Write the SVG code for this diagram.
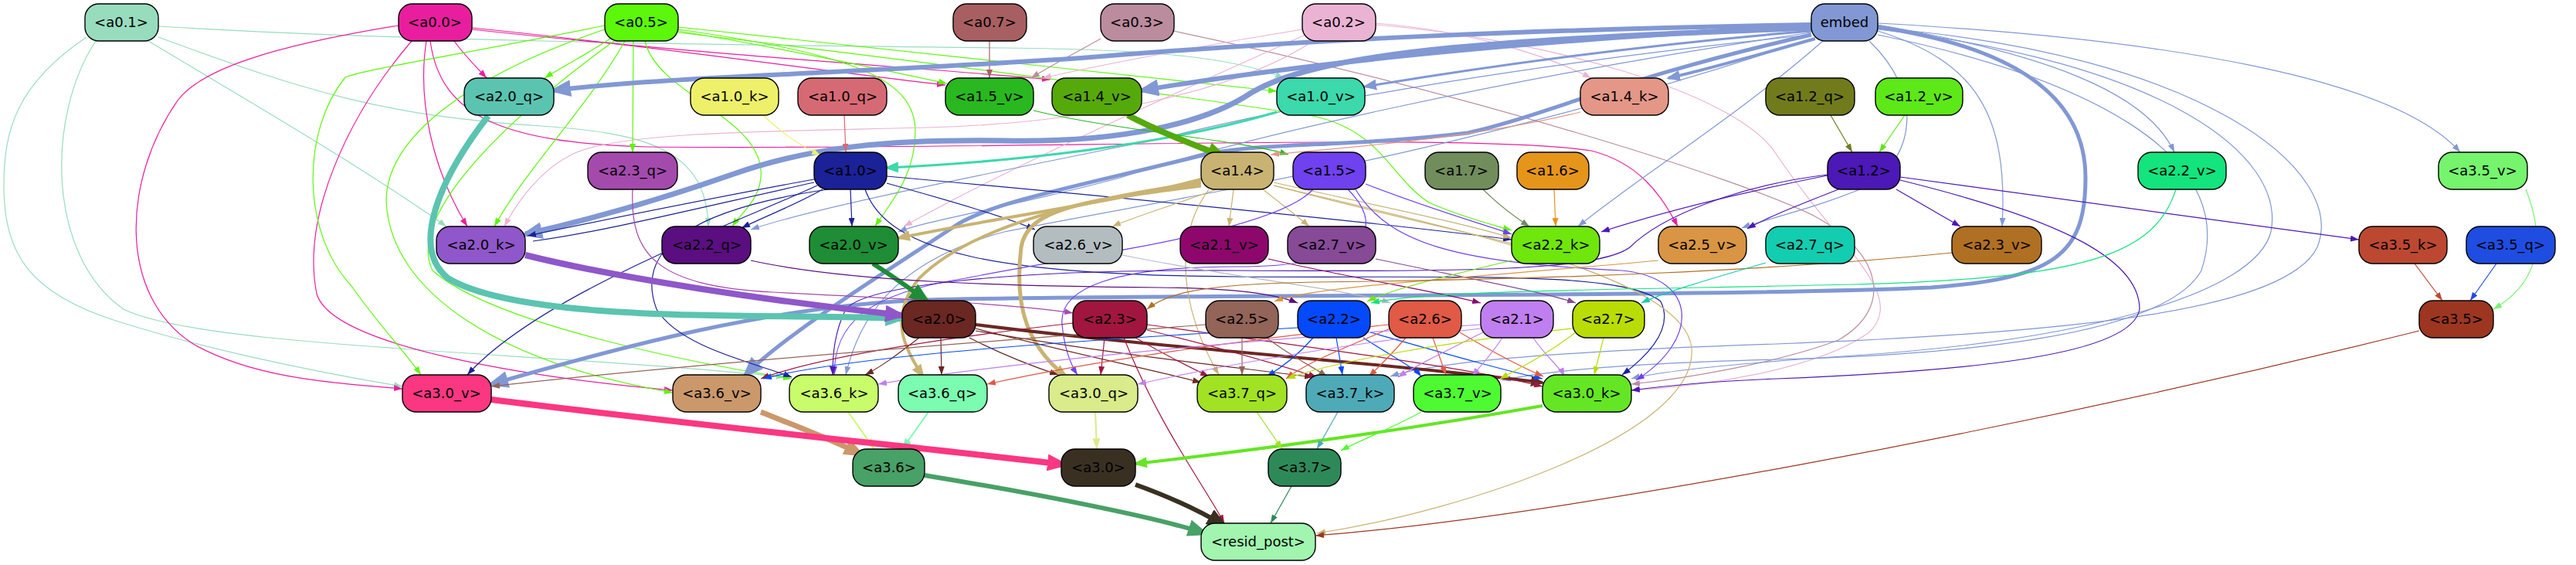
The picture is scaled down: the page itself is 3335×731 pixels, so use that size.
<svg xmlns="http://www.w3.org/2000/svg" width="3335" height="731" viewBox="0 0 3335 731">
<style>
.e{fill:none}
.n rect{stroke:#000;stroke-width:1.4}
.n text{font-family:"DejaVu Sans","Liberation Sans",sans-serif;font-size:18px;text-anchor:middle;fill:#000}
</style>
<defs>
<marker id="s98dcbe" viewBox="0 0 11 8" refX="11" refY="4" markerWidth="11" markerHeight="8" markerUnits="userSpaceOnUse" orient="auto"><path d="M0,0L11,4L0,8z" fill="#98dcbe"/></marker>
<marker id="se91e9e" viewBox="0 0 11 8" refX="11" refY="4" markerWidth="11" markerHeight="8" markerUnits="userSpaceOnUse" orient="auto"><path d="M0,0L11,4L0,8z" fill="#e91e9e"/></marker>
<marker id="s5cf70a" viewBox="0 0 11 8" refX="11" refY="4" markerWidth="11" markerHeight="8" markerUnits="userSpaceOnUse" orient="auto"><path d="M0,0L11,4L0,8z" fill="#5cf70a"/></marker>
<marker id="sa85f62" viewBox="0 0 11 8" refX="11" refY="4" markerWidth="11" markerHeight="8" markerUnits="userSpaceOnUse" orient="auto"><path d="M0,0L11,4L0,8z" fill="#a85f62"/></marker>
<marker id="sbb8c9e" viewBox="0 0 11 8" refX="11" refY="4" markerWidth="11" markerHeight="8" markerUnits="userSpaceOnUse" orient="auto"><path d="M0,0L11,4L0,8z" fill="#bb8c9e"/></marker>
<marker id="sebb3d3" viewBox="0 0 11 8" refX="11" refY="4" markerWidth="11" markerHeight="8" markerUnits="userSpaceOnUse" orient="auto"><path d="M0,0L11,4L0,8z" fill="#ebb3d3"/></marker>
<marker id="s8198d4" viewBox="0 0 11 8" refX="11" refY="4" markerWidth="11" markerHeight="8" markerUnits="userSpaceOnUse" orient="auto"><path d="M0,0L11,4L0,8z" fill="#8198d4"/></marker>
<marker id="m8198d4" viewBox="0 0 18 14" refX="15" refY="7" markerWidth="18" markerHeight="14" markerUnits="userSpaceOnUse" orient="auto"><path d="M0,0L18,7L0,14z" fill="#8198d4"/></marker>
<marker id="L8198d4" viewBox="0 0 28 22" refX="22" refY="11" markerWidth="28" markerHeight="22" markerUnits="userSpaceOnUse" orient="auto"><path d="M0,0L28,11L0,22z" fill="#8198d4"/></marker>
<marker id="seef06a" viewBox="0 0 11 8" refX="11" refY="4" markerWidth="11" markerHeight="8" markerUnits="userSpaceOnUse" orient="auto"><path d="M0,0L11,4L0,8z" fill="#eef06a"/></marker>
<marker id="sd66a74" viewBox="0 0 11 8" refX="11" refY="4" markerWidth="11" markerHeight="8" markerUnits="userSpaceOnUse" orient="auto"><path d="M0,0L11,4L0,8z" fill="#d66a74"/></marker>
<marker id="m3bd9ab" viewBox="0 0 18 14" refX="15" refY="7" markerWidth="18" markerHeight="14" markerUnits="userSpaceOnUse" orient="auto"><path d="M0,0L18,7L0,14z" fill="#3bd9ab"/></marker>
<marker id="L56a90a" viewBox="0 0 28 22" refX="22" refY="11" markerWidth="28" markerHeight="22" markerUnits="userSpaceOnUse" orient="auto"><path d="M0,0L28,11L0,22z" fill="#56a90a"/></marker>
<marker id="s29b81f" viewBox="0 0 11 8" refX="11" refY="4" markerWidth="11" markerHeight="8" markerUnits="userSpaceOnUse" orient="auto"><path d="M0,0L11,4L0,8z" fill="#29b81f"/></marker>
<marker id="se49787" viewBox="0 0 11 8" refX="11" refY="4" markerWidth="11" markerHeight="8" markerUnits="userSpaceOnUse" orient="auto"><path d="M0,0L11,4L0,8z" fill="#e49787"/></marker>
<marker id="s717b1b" viewBox="0 0 11 8" refX="11" refY="4" markerWidth="11" markerHeight="8" markerUnits="userSpaceOnUse" orient="auto"><path d="M0,0L11,4L0,8z" fill="#717b1b"/></marker>
<marker id="s5de818" viewBox="0 0 11 8" refX="11" refY="4" markerWidth="11" markerHeight="8" markerUnits="userSpaceOnUse" orient="auto"><path d="M0,0L11,4L0,8z" fill="#5de818"/></marker>
<marker id="s1b2197" viewBox="0 0 11 8" refX="11" refY="4" markerWidth="11" markerHeight="8" markerUnits="userSpaceOnUse" orient="auto"><path d="M0,0L11,4L0,8z" fill="#1b2197"/></marker>
<marker id="sc9b372" viewBox="0 0 11 8" refX="11" refY="4" markerWidth="11" markerHeight="8" markerUnits="userSpaceOnUse" orient="auto"><path d="M0,0L11,4L0,8z" fill="#c9b372"/></marker>
<marker id="mc9b372" viewBox="0 0 18 14" refX="15" refY="7" markerWidth="18" markerHeight="14" markerUnits="userSpaceOnUse" orient="auto"><path d="M0,0L18,7L0,14z" fill="#c9b372"/></marker>
<marker id="s6f41ef" viewBox="0 0 11 8" refX="11" refY="4" markerWidth="11" markerHeight="8" markerUnits="userSpaceOnUse" orient="auto"><path d="M0,0L11,4L0,8z" fill="#6f41ef"/></marker>
<marker id="s718d5c" viewBox="0 0 11 8" refX="11" refY="4" markerWidth="11" markerHeight="8" markerUnits="userSpaceOnUse" orient="auto"><path d="M0,0L11,4L0,8z" fill="#718d5c"/></marker>
<marker id="se6951b" viewBox="0 0 11 8" refX="11" refY="4" markerWidth="11" markerHeight="8" markerUnits="userSpaceOnUse" orient="auto"><path d="M0,0L11,4L0,8z" fill="#e6951b"/></marker>
<marker id="s4c18b6" viewBox="0 0 11 8" refX="11" refY="4" markerWidth="11" markerHeight="8" markerUnits="userSpaceOnUse" orient="auto"><path d="M0,0L11,4L0,8z" fill="#4c18b6"/></marker>
<marker id="L5bc4b0" viewBox="0 0 28 22" refX="22" refY="11" markerWidth="28" markerHeight="22" markerUnits="userSpaceOnUse" orient="auto"><path d="M0,0L28,11L0,22z" fill="#5bc4b0"/></marker>
<marker id="L8f57c9" viewBox="0 0 28 22" refX="22" refY="11" markerWidth="28" markerHeight="22" markerUnits="userSpaceOnUse" orient="auto"><path d="M0,0L28,11L0,22z" fill="#8f57c9"/></marker>
<marker id="L1e8d35" viewBox="0 0 28 22" refX="22" refY="11" markerWidth="28" markerHeight="22" markerUnits="userSpaceOnUse" orient="auto"><path d="M0,0L28,11L0,22z" fill="#1e8d35"/></marker>
<marker id="s5a0e80" viewBox="0 0 11 8" refX="11" refY="4" markerWidth="11" markerHeight="8" markerUnits="userSpaceOnUse" orient="auto"><path d="M0,0L11,4L0,8z" fill="#5a0e80"/></marker>
<marker id="sa44aad" viewBox="0 0 11 8" refX="11" refY="4" markerWidth="11" markerHeight="8" markerUnits="userSpaceOnUse" orient="auto"><path d="M0,0L11,4L0,8z" fill="#a44aad"/></marker>
<marker id="sb3bdc0" viewBox="0 0 11 8" refX="11" refY="4" markerWidth="11" markerHeight="8" markerUnits="userSpaceOnUse" orient="auto"><path d="M0,0L11,4L0,8z" fill="#b3bdc0"/></marker>
<marker id="s8e076d" viewBox="0 0 11 8" refX="11" refY="4" markerWidth="11" markerHeight="8" markerUnits="userSpaceOnUse" orient="auto"><path d="M0,0L11,4L0,8z" fill="#8e076d"/></marker>
<marker id="s864a97" viewBox="0 0 11 8" refX="11" refY="4" markerWidth="11" markerHeight="8" markerUnits="userSpaceOnUse" orient="auto"><path d="M0,0L11,4L0,8z" fill="#864a97"/></marker>
<marker id="s6fe60c" viewBox="0 0 11 8" refX="11" refY="4" markerWidth="11" markerHeight="8" markerUnits="userSpaceOnUse" orient="auto"><path d="M0,0L11,4L0,8z" fill="#6fe60c"/></marker>
<marker id="sd99544" viewBox="0 0 11 8" refX="11" refY="4" markerWidth="11" markerHeight="8" markerUnits="userSpaceOnUse" orient="auto"><path d="M0,0L11,4L0,8z" fill="#d99544"/></marker>
<marker id="sb07023" viewBox="0 0 11 8" refX="11" refY="4" markerWidth="11" markerHeight="8" markerUnits="userSpaceOnUse" orient="auto"><path d="M0,0L11,4L0,8z" fill="#b07023"/></marker>
<marker id="s13cdb0" viewBox="0 0 11 8" refX="11" refY="4" markerWidth="11" markerHeight="8" markerUnits="userSpaceOnUse" orient="auto"><path d="M0,0L11,4L0,8z" fill="#13cdb0"/></marker>
<marker id="s13e47d" viewBox="0 0 11 8" refX="11" refY="4" markerWidth="11" markerHeight="8" markerUnits="userSpaceOnUse" orient="auto"><path d="M0,0L11,4L0,8z" fill="#13e47d"/></marker>
<marker id="s76f46d" viewBox="0 0 11 8" refX="11" refY="4" markerWidth="11" markerHeight="8" markerUnits="userSpaceOnUse" orient="auto"><path d="M0,0L11,4L0,8z" fill="#76f46d"/></marker>
<marker id="sbc4832" viewBox="0 0 11 8" refX="11" refY="4" markerWidth="11" markerHeight="8" markerUnits="userSpaceOnUse" orient="auto"><path d="M0,0L11,4L0,8z" fill="#bc4832"/></marker>
<marker id="s1f4de1" viewBox="0 0 11 8" refX="11" refY="4" markerWidth="11" markerHeight="8" markerUnits="userSpaceOnUse" orient="auto"><path d="M0,0L11,4L0,8z" fill="#1f4de1"/></marker>
<marker id="s6b2722" viewBox="0 0 11 8" refX="11" refY="4" markerWidth="11" markerHeight="8" markerUnits="userSpaceOnUse" orient="auto"><path d="M0,0L11,4L0,8z" fill="#6b2722"/></marker>
<marker id="m6b2722" viewBox="0 0 18 14" refX="15" refY="7" markerWidth="18" markerHeight="14" markerUnits="userSpaceOnUse" orient="auto"><path d="M0,0L18,7L0,14z" fill="#6b2722"/></marker>
<marker id="sa1163f" viewBox="0 0 11 8" refX="11" refY="4" markerWidth="11" markerHeight="8" markerUnits="userSpaceOnUse" orient="auto"><path d="M0,0L11,4L0,8z" fill="#a1163f"/></marker>
<marker id="s936458" viewBox="0 0 11 8" refX="11" refY="4" markerWidth="11" markerHeight="8" markerUnits="userSpaceOnUse" orient="auto"><path d="M0,0L11,4L0,8z" fill="#936458"/></marker>
<marker id="s0449fb" viewBox="0 0 11 8" refX="11" refY="4" markerWidth="11" markerHeight="8" markerUnits="userSpaceOnUse" orient="auto"><path d="M0,0L11,4L0,8z" fill="#0449fb"/></marker>
<marker id="se05a45" viewBox="0 0 11 8" refX="11" refY="4" markerWidth="11" markerHeight="8" markerUnits="userSpaceOnUse" orient="auto"><path d="M0,0L11,4L0,8z" fill="#e05a45"/></marker>
<marker id="sc07ff0" viewBox="0 0 11 8" refX="11" refY="4" markerWidth="11" markerHeight="8" markerUnits="userSpaceOnUse" orient="auto"><path d="M0,0L11,4L0,8z" fill="#c07ff0"/></marker>
<marker id="sb9dc04" viewBox="0 0 11 8" refX="11" refY="4" markerWidth="11" markerHeight="8" markerUnits="userSpaceOnUse" orient="auto"><path d="M0,0L11,4L0,8z" fill="#b9dc04"/></marker>
<marker id="Lcb986b" viewBox="0 0 28 22" refX="22" refY="11" markerWidth="28" markerHeight="22" markerUnits="userSpaceOnUse" orient="auto"><path d="M0,0L28,11L0,22z" fill="#cb986b"/></marker>
<marker id="sc9fc6b" viewBox="0 0 11 8" refX="11" refY="4" markerWidth="14" markerHeight="10" markerUnits="userSpaceOnUse" orient="auto"><path d="M0,0L11,4L0,8z" fill="#c9fc6b"/></marker>
<marker id="s7cfcb1" viewBox="0 0 11 8" refX="11" refY="4" markerWidth="14" markerHeight="10" markerUnits="userSpaceOnUse" orient="auto"><path d="M0,0L11,4L0,8z" fill="#7cfcb1"/></marker>
<marker id="Lfb3781" viewBox="0 0 28 22" refX="22" refY="11" markerWidth="28" markerHeight="22" markerUnits="userSpaceOnUse" orient="auto"><path d="M0,0L28,11L0,22z" fill="#fb3781"/></marker>
<marker id="sd9eb8a" viewBox="0 0 11 8" refX="11" refY="4" markerWidth="14" markerHeight="10" markerUnits="userSpaceOnUse" orient="auto"><path d="M0,0L11,4L0,8z" fill="#d9eb8a"/></marker>
<marker id="m64e624" viewBox="0 0 18 14" refX="15" refY="7" markerWidth="18" markerHeight="14" markerUnits="userSpaceOnUse" orient="auto"><path d="M0,0L18,7L0,14z" fill="#64e624"/></marker>
<marker id="sa1e224" viewBox="0 0 11 8" refX="11" refY="4" markerWidth="11" markerHeight="8" markerUnits="userSpaceOnUse" orient="auto"><path d="M0,0L11,4L0,8z" fill="#a1e224"/></marker>
<marker id="s4faab8" viewBox="0 0 11 8" refX="11" refY="4" markerWidth="11" markerHeight="8" markerUnits="userSpaceOnUse" orient="auto"><path d="M0,0L11,4L0,8z" fill="#4faab8"/></marker>
<marker id="s4efb32" viewBox="0 0 11 8" refX="11" refY="4" markerWidth="11" markerHeight="8" markerUnits="userSpaceOnUse" orient="auto"><path d="M0,0L11,4L0,8z" fill="#4efb32"/></marker>
<marker id="L48a166" viewBox="0 0 28 22" refX="22" refY="11" markerWidth="28" markerHeight="22" markerUnits="userSpaceOnUse" orient="auto"><path d="M0,0L28,11L0,22z" fill="#48a166"/></marker>
<marker id="L3a3022" viewBox="0 0 28 22" refX="22" refY="11" markerWidth="28" markerHeight="22" markerUnits="userSpaceOnUse" orient="auto"><path d="M0,0L28,11L0,22z" fill="#3a3022"/></marker>
<marker id="s2e8959" viewBox="0 0 11 8" refX="11" refY="4" markerWidth="11" markerHeight="8" markerUnits="userSpaceOnUse" orient="auto"><path d="M0,0L11,4L0,8z" fill="#2e8959"/></marker>
<marker id="s9c3621" viewBox="0 0 11 8" refX="11" refY="4" markerWidth="11" markerHeight="8" markerUnits="userSpaceOnUse" orient="auto"><path d="M0,0L11,4L0,8z" fill="#9c3621"/></marker>
</defs>
<rect width="3335" height="731" fill="#fff"/>
<g id="edges" stroke-width="1.2">
<path class="e" stroke="#98dcbe" marker-end="url(#s98dcbe)" d="M192,53 C320,130 460,210 578,293"/>
<path class="e" stroke="#98dcbe" marker-end="url(#s98dcbe)" d="M112,48 C20,110 5,170 5,240 C5,330 40,380 150,415 C260,450 400,480 521,500"/>
<path class="e" stroke="#98dcbe" marker-end="url(#s98dcbe)" d="M124,53 C60,150 60,330 160,400 C260,450 700,455 1016,488"/>
<path class="e" stroke="#98dcbe" marker-end="url(#s98dcbe)" d="M205,48 C400,120 500,150 700,163 C830,172 915,190 917,293"/>
<path class="e" stroke="#98dcbe" marker-end="url(#s98dcbe)" d="M205,34 C500,52 900,58 1300,62 C1500,64 1600,75 1662,101"/>
<path class="e" stroke="#e91e9e" marker-end="url(#se91e9e)" d="M588,53 C600,70 615,85 630,101"/>
<path class="e" stroke="#e91e9e" marker-end="url(#se91e9e)" d="M552,53 C540,130 560,220 605,293"/>
<path class="e" stroke="#e91e9e" marker-end="url(#se91e9e)" d="M516,33 C350,60 260,90 230,130 C160,230 150,380 250,445 C330,490 430,495 521,503"/>
<path class="e" stroke="#e91e9e" marker-end="url(#se91e9e)" d="M533,53 C450,150 390,280 410,380 C430,450 700,490 871,505"/>
<path class="e" stroke="#e91e9e" marker-end="url(#se91e9e)" d="M611,36 C850,60 1050,90 1224,110"/>
<path class="e" stroke="#e91e9e" marker-end="url(#se91e9e)" d="M611,38 C900,70 1200,88 1360,103"/>
<path class="e" stroke="#e91e9e" marker-end="url(#se91e9e)" d="M557,53 C570,150 650,185 840,190 C1300,195 1900,170 2060,195 C2120,210 2150,250 2172,293"/>
<path class="e" stroke="#5cf70a" marker-end="url(#s5cf70a)" d="M790,50 C760,70 730,85 705,101"/>
<path class="e" stroke="#5cf70a" marker-end="url(#s5cf70a)" d="M820,53 C820,110 819,160 819,197"/>
<path class="e" stroke="#5cf70a" marker-end="url(#s5cf70a)" d="M809,53 C760,140 680,220 640,293"/>
<path class="e" stroke="#5cf70a" marker-end="url(#s5cf70a)" d="M835,53 C850,120 980,150 985,220 C988,255 960,275 948,293"/>
<path class="e" stroke="#5cf70a" marker-end="url(#s5cf70a)" d="M878,38 C1100,70 1185,100 1185,170 C1185,230 1150,265 1133,293"/>
<path class="e" stroke="#5cf70a" marker-end="url(#s5cf70a)" d="M878,40 C1000,60 1120,85 1226,108"/>
<path class="e" stroke="#5cf70a" marker-end="url(#s5cf70a)" d="M878,35 C1100,60 1400,90 1653,118"/>
<path class="e" stroke="#5cf70a" marker-end="url(#s5cf70a)" d="M878,42 C1200,80 1500,120 1700,150 C1790,170 1800,230 1850,262 C1890,280 1930,290 1957,298"/>
<path class="e" stroke="#5cf70a" marker-end="url(#s5cf70a)" d="M783,33 C600,70 470,90 447,100 C390,170 390,300 455,370 C490,420 520,450 545,485"/>
<path class="e" stroke="#5cf70a" marker-end="url(#s5cf70a)" d="M783,38 C600,100 500,180 500,260 C505,380 650,470 871,508"/>
<path class="e" stroke="#5cf70a" marker-end="url(#s5cf70a)" d="M795,53 C620,180 530,290 560,350 C640,420 900,470 1025,490"/>
<path class="e" stroke="#a85f62" marker-end="url(#sa85f62)" d="M1281,53 L1281,101"/>
<path class="e" stroke="#bb8c9e" marker-end="url(#sbb8c9e)" d="M1425,50 C1390,70 1360,85 1335,101"/>
<path class="e" stroke="#bb8c9e" marker-end="url(#sbb8c9e)" d="M1519,40 C1900,120 2250,230 2350,280 C2440,330 2450,400 2380,440 C2300,470 2180,490 2112,497"/>
<path class="e" stroke="#ebb3d3" marker-end="url(#sebb3d3)" d="M1686,38 C1550,60 1420,85 1350,101"/>
<path class="e" stroke="#ebb3d3" marker-end="url(#sebb3d3)" d="M1781,30 C1900,40 2000,70 2060,101"/>
<path class="e" stroke="#ebb3d3" marker-end="url(#sebb3d3)" d="M1700,53 C1600,120 1400,160 1200,165 C1000,170 800,170 740,200 C700,220 670,260 653,293"/>
<path class="e" stroke="#ebb3d3" marker-end="url(#sebb3d3)" d="M1690,45 C1500,130 1300,220 1170,293"/>
<path class="e" stroke="#ebb3d3" marker-end="url(#sebb3d3)" d="M1781,32 C2000,50 2250,120 2300,200 C2380,320 2470,380 2420,430 C2350,480 2200,500 2112,505"/>
<path class="e" stroke="#8198d4" stroke-width="6" marker-end="url(#L8198d4)" d="M2345,32 C2000,38 1700,50 1400,75 C1100,95 850,100 717,117"/>
<path class="e" stroke="#8198d4" stroke-width="6" marker-end="url(#L8198d4)" d="M2345,34 C2000,50 1700,80 1478,117"/>
<path class="e" stroke="#8198d4" stroke-width="7" marker-end="url(#L8198d4)" d="M2345,36 C2000,50 1720,60 1620,120 C1560,160 1450,185 1300,182 C1150,180 1050,190 950,225 C850,260 760,285 680,303"/>
<path class="e" stroke="#8198d4" stroke-width="5" marker-end="url(#L8198d4)" d="M2345,45 C2100,100 2000,150 1900,172 C1750,190 1620,185 1560,200 C1400,240 1290,260 1240,290 C1150,350 1020,430 965,485"/>
<path class="e" stroke="#8198d4" stroke-width="5" marker-end="url(#L8198d4)" d="M2431,35 C2600,60 2700,120 2700,230 C2700,330 2660,360 2500,372 C2200,385 1500,380 1200,388 C1000,395 800,450 636,497"/>
<path class="e" stroke="#8198d4" stroke-width="3" marker-end="url(#m8198d4)" d="M2345,40 C2100,60 1900,90 1767,112"/>
<path class="e" stroke="#8198d4" stroke-width="4" marker-end="url(#m8198d4)" d="M2350,50 C2280,70 2210,90 2160,101"/>
<path class="e" stroke="#8198d4" marker-end="url(#s8198d4)" d="M2360,53 C2250,150 2120,230 2043,293"/>
<path class="e" stroke="#8198d4" marker-end="url(#s8198d4)" d="M2420,53 C2490,120 2480,200 2420,240 C2350,270 2280,285 2255,295"/>
<path class="e" stroke="#8198d4" marker-end="url(#s8198d4)" d="M2431,40 C2560,80 2600,150 2592,293"/>
<path class="e" stroke="#8198d4" marker-end="url(#s8198d4)" d="M2431,32 C2650,70 2780,120 2815,197"/>
<path class="e" stroke="#8198d4" marker-end="url(#s8198d4)" d="M2431,30 C2800,50 3100,100 3185,197"/>
<path class="e" stroke="#8198d4" marker-end="url(#s8198d4)" d="M2345,45 C2000,80 1700,130 1500,180 C1250,230 1050,270 972,297"/>
<path class="e" stroke="#8198d4" marker-end="url(#s8198d4)" d="M2345,42 C1950,100 1600,180 1450,230 C1300,270 1200,285 1163,300"/>
<path class="e" stroke="#8198d4" marker-end="url(#s8198d4)" d="M2345,50 C1900,200 1500,260 1300,300 C1150,340 1110,420 1095,485"/>
<path class="e" stroke="#8198d4" marker-end="url(#s8198d4)" d="M2431,45 C2700,100 2900,200 2850,350 C2800,440 2500,460 2300,465 C2100,470 2000,480 1945,492"/>
<path class="e" stroke="#8198d4" marker-end="url(#s8198d4)" d="M2431,38 C2800,80 2960,200 2940,300 C2920,380 2700,440 2400,460 C2250,470 2150,480 2112,490"/>
<path class="e" stroke="#8198d4" marker-end="url(#s8198d4)" d="M2431,36 C2850,70 3040,220 3000,320 C2960,400 2700,430 2300,445 C2000,455 1850,470 1800,487"/>
<path class="e" stroke="#eef06a" marker-end="url(#seef06a)" d="M988,149 C1010,170 1030,185 1062,201"/>
<path class="e" stroke="#d66a74" marker-end="url(#sd66a74)" d="M1093,149 L1095,197"/>
<path class="e" stroke="#3bd9ab" stroke-width="3" marker-end="url(#m3bd9ab)" d="M1653,145 C1500,190 1300,210 1148,217"/>
<path class="e" stroke="#56a90a" stroke-width="8" marker-end="url(#L56a90a)" d="M1460,149 C1500,170 1540,185 1585,203"/>
<path class="e" stroke="#29b81f" marker-end="url(#s29b81f)" d="M1338,143 C1450,170 1600,180 1668,200"/>
<path class="e" stroke="#e49787" marker-end="url(#se49787)" d="M2046,145 C1900,180 1750,190 1645,200"/>
<path class="e" stroke="#717b1b" marker-end="url(#s717b1b)" d="M2370,149 L2398,197"/>
<path class="e" stroke="#5de818" marker-end="url(#s5de818)" d="M2466,149 L2433,197"/>
<path class="e" stroke="#1b2197" marker-end="url(#s1b2197)" d="M1101,245 L1103,293"/>
<path class="e" stroke="#1b2197" marker-end="url(#s1b2197)" d="M1065,245 C1030,265 990,280 960,295"/>
<path class="e" stroke="#1b2197" marker-end="url(#s1b2197)" d="M1054,232 C900,260 780,285 683,305"/>
<path class="e" stroke="#1b2197" d="M1054,236 C900,270 780,300 690,312"/>
<path class="e" stroke="#1b2197" marker-end="url(#s1b2197)" d="M1148,237 C1230,260 1300,280 1340,297"/>
<path class="e" stroke="#1b2197" marker-end="url(#s1b2197)" d="M1058,240 C950,290 700,380 605,485"/>
<path class="e" stroke="#1b2197" marker-end="url(#s1b2197)" d="M1072,245 C900,270 820,320 850,400 C880,450 980,470 1025,488"/>
<path class="e" stroke="#1b2197" marker-end="url(#s1b2197)" d="M1148,228 C1500,260 1800,290 1957,310"/>
<path class="e" stroke="#1b2197" marker-end="url(#s1b2197)" d="M1120,245 C1150,330 1300,355 1600,358 C1900,360 2100,350 2150,390 C2170,430 2120,470 2100,485"/>
<path class="e" stroke="#c9b372" stroke-width="4" marker-end="url(#mc9b372)" d="M1555,232 C1450,260 1300,280 1163,308"/>
<path class="e" stroke="#c9b372" marker-end="url(#sc9b372)" d="M1575,245 C1520,265 1470,280 1440,293"/>
<path class="e" stroke="#c9b372" marker-end="url(#sc9b372)" d="M1597,245 L1591,293"/>
<path class="e" stroke="#c9b372" marker-end="url(#sc9b372)" d="M1635,245 C1660,265 1680,280 1695,293"/>
<path class="e" stroke="#c9b372" marker-end="url(#sc9b372)" d="M1649,236 C1800,270 1900,290 1957,308"/>
<path class="e" stroke="#c9b372" d="M1649,240 C1800,280 1900,300 1960,316"/>
<path class="e" stroke="#c9b372" stroke-width="5" marker-end="url(#mc9b372)" d="M1555,240 C1400,260 1330,270 1322,320 C1315,380 1320,440 1380,487"/>
<path class="e" stroke="#c9b372" stroke-width="4" marker-end="url(#mc9b372)" d="M1555,236 C1380,260 1250,300 1190,360 C1150,410 1170,450 1195,487"/>
<path class="e" stroke="#c9b372" marker-end="url(#sc9b372)" d="M1565,245 C1510,320 1540,420 1578,485"/>
<path class="e" stroke="#c9b372" marker-end="url(#sc9b372)" d="M1649,240 C1900,300 2180,360 2190,450 C2200,560 1900,660 1705,690"/>
<path class="e" stroke="#6f41ef" marker-end="url(#s6f41ef)" d="M1768,238 C1850,270 1920,290 1957,303"/>
<path class="e" stroke="#6f41ef" marker-end="url(#s6f41ef)" d="M1755,245 C1800,320 1900,340 2100,350 C2200,360 2200,440 2118,492"/>
<path class="e" stroke="#6f41ef" marker-end="url(#s6f41ef)" d="M1745,245 C1800,300 1760,345 1600,345 C1450,345 1370,370 1375,420 C1378,450 1385,470 1395,485"/>
<path class="e" stroke="#6f41ef" marker-end="url(#s6f41ef)" d="M1700,245 C1650,300 1400,330 1250,360 C1120,380 1080,420 1080,485"/>
<path class="e" stroke="#718d5c" marker-end="url(#s718d5c)" d="M1920,245 C1940,265 1960,280 1980,293"/>
<path class="e" stroke="#e6951b" marker-end="url(#se6951b)" d="M2012,245 L2014,293"/>
<path class="e" stroke="#4c18b6" marker-end="url(#s4c18b6)" d="M2366,227 C2250,250 2150,275 2073,300"/>
<path class="e" stroke="#4c18b6" marker-end="url(#s4c18b6)" d="M2380,245 C2330,265 2290,280 2262,296"/>
<path class="e" stroke="#4c18b6" marker-end="url(#s4c18b6)" d="M2455,245 C2490,265 2515,280 2538,293"/>
<path class="e" stroke="#4c18b6" marker-end="url(#s4c18b6)" d="M2460,229 C2700,260 2900,290 3054,310"/>
<path class="e" stroke="#4c18b6" marker-end="url(#s4c18b6)" d="M2460,233 C2650,280 2770,330 2770,400 C2760,460 2550,480 2300,490 C2200,494 2150,500 2112,505"/>
<path class="e" stroke="#4c18b6" marker-end="url(#s4c18b6)" d="M2366,226 C2250,240 2150,280 2110,320 C2070,350 1900,352 1600,350 C1300,348 1120,370 1095,400 C1080,430 1078,460 1078,485"/>
<path class="e" stroke="#5bc4b0" stroke-width="8" marker-end="url(#L5bc4b0)" d="M632,150 C570,230 530,320 580,360 C680,420 1000,405 1168,412"/>
<path class="e" stroke="#8f57c9" stroke-width="8" marker-end="url(#L8f57c9)" d="M680,330 C800,360 1000,390 1168,408"/>
<path class="e" stroke="#1e8d35" stroke-width="6" marker-end="url(#L1e8d35)" d="M1130,341 C1160,360 1180,375 1200,389"/>
<path class="e" stroke="#5a0e80" marker-end="url(#s5a0e80)" d="M972,337 C1100,365 1300,370 1500,372 C1600,373 1650,380 1680,392"/>
<path class="e" stroke="#a44aad" marker-end="url(#sa44aad)" d="M819,245 C815,330 850,370 1000,378 C1200,388 1330,395 1389,405"/>
<path class="e" stroke="#b3bdc0" marker-end="url(#sb3bdc0)" d="M1453,330 C1600,360 1750,375 1800,392"/>
<path class="e" stroke="#8e076d" marker-end="url(#s8e076d)" d="M1642,335 C1750,360 1850,375 1917,392"/>
<path class="e" stroke="#864a97" marker-end="url(#s864a97)" d="M1781,335 C1900,360 2000,378 2040,392"/>
<path class="e" stroke="#6fe60c" marker-end="url(#s6fe60c)" d="M1957,337 C1860,360 1800,375 1770,390"/>
<path class="e" stroke="#d99544" marker-end="url(#sd99544)" d="M2147,337 C1900,360 1700,370 1650,390"/>
<path class="e" stroke="#b07023" marker-end="url(#sb07023)" d="M2527,327 C2300,350 2000,362 1700,365 C1550,368 1510,380 1485,400"/>
<path class="e" stroke="#13cdb0" marker-end="url(#s13cdb0)" d="M2286,340 C2200,365 2150,380 2125,392"/>
<path class="e" stroke="#13e47d" marker-end="url(#s13e47d)" d="M2817,245 C2790,330 2700,360 2400,368 C2100,375 1850,375 1775,392"/>
<path class="e" stroke="#76f46d" marker-end="url(#s76f46d)" d="M3270,245 C3300,320 3280,370 3228,400"/>
<path class="e" stroke="#bc4832" marker-end="url(#sbc4832)" d="M3126,341 L3162,389"/>
<path class="e" stroke="#1f4de1" marker-end="url(#s1f4de1)" d="M3232,341 L3198,389"/>
<path class="e" stroke="#6b2722" marker-end="url(#s6b2722)" d="M1190,437 C1160,460 1140,475 1120,485"/>
<path class="e" stroke="#6b2722" marker-end="url(#s6b2722)" d="M1218,437 L1219,485"/>
<path class="e" stroke="#6b2722" marker-end="url(#s6b2722)" d="M1255,437 C1300,460 1340,475 1370,485"/>
<path class="e" stroke="#6b2722" marker-end="url(#s6b2722)" d="M1263,425 C1400,460 1500,480 1555,495"/>
<path class="e" stroke="#6b2722" stroke-width="4" marker-end="url(#m6b2722)" d="M1263,420 C1500,450 1800,470 1997,495"/>
<path class="e" stroke="#6b2722" marker-end="url(#s6b2722)" d="M1263,428 C1450,460 1600,475 1700,488"/>
<path class="e" stroke="#a1163f" marker-end="url(#sa1163f)" d="M1430,437 L1425,485"/>
<path class="e" stroke="#a1163f" marker-end="url(#sa1163f)" d="M1470,437 C1510,460 1540,475 1565,487"/>
<path class="e" stroke="#a1163f" marker-end="url(#sa1163f)" d="M1485,427 C1580,450 1650,470 1705,488"/>
<path class="e" stroke="#a1163f" marker-end="url(#sa1163f)" d="M1455,437 C1500,550 1560,630 1585,677"/>
<path class="e" stroke="#a1163f" marker-end="url(#sa1163f)" d="M1389,418 C1200,440 1050,465 985,490"/>
<path class="e" stroke="#a1163f" marker-end="url(#sa1163f)" d="M1485,420 C1700,450 1900,475 1997,500"/>
<path class="e" stroke="#936458" marker-end="url(#s936458)" d="M1608,437 L1608,485"/>
<path class="e" stroke="#936458" marker-end="url(#s936458)" d="M1640,437 C1670,460 1700,475 1718,487"/>
<path class="e" stroke="#936458" marker-end="url(#s936458)" d="M1561,420 C1300,440 900,470 636,500"/>
<path class="e" stroke="#0449fb" marker-end="url(#s0449fb)" d="M1700,437 C1680,460 1660,475 1640,487"/>
<path class="e" stroke="#0449fb" marker-end="url(#s0449fb)" d="M1730,437 L1738,485"/>
<path class="e" stroke="#0449fb" marker-end="url(#s0449fb)" d="M1765,437 C1800,460 1830,475 1840,487"/>
<path class="e" stroke="#0449fb" marker-end="url(#s0449fb)" d="M1680,424 C1400,440 1100,460 988,490"/>
<path class="e" stroke="#0449fb" marker-end="url(#s0449fb)" d="M1774,430 C1880,460 1950,480 1997,490"/>
<path class="e" stroke="#e05a45" marker-end="url(#se05a45)" d="M1820,437 C1800,460 1785,475 1772,487"/>
<path class="e" stroke="#e05a45" marker-end="url(#se05a45)" d="M1855,437 L1872,485"/>
<path class="e" stroke="#e05a45" marker-end="url(#se05a45)" d="M1890,430 C1940,460 1970,475 1998,487"/>
<path class="e" stroke="#e05a45" marker-end="url(#se05a45)" d="M1798,420 C1600,440 1400,470 1278,497"/>
<path class="e" stroke="#e05a45" marker-end="url(#se05a45)" d="M1800,425 C1740,450 1690,470 1665,490"/>
<path class="e" stroke="#c07ff0" marker-end="url(#sc07ff0)" d="M1945,437 C1930,460 1915,475 1906,487"/>
<path class="e" stroke="#c07ff0" marker-end="url(#sc07ff0)" d="M1985,437 C2000,460 2020,475 2025,487"/>
<path class="e" stroke="#c07ff0" marker-end="url(#sc07ff0)" d="M1917,420 C1600,440 1300,470 1137,497"/>
<path class="e" stroke="#c07ff0" marker-end="url(#sc07ff0)" d="M1917,425 C1700,450 1550,480 1473,497"/>
<path class="e" stroke="#c07ff0" marker-end="url(#sc07ff0)" d="M1920,430 C1860,460 1830,475 1810,488"/>
<path class="e" stroke="#b9dc04" marker-end="url(#sb9dc04)" d="M2076,437 L2064,485"/>
<path class="e" stroke="#b9dc04" marker-end="url(#sb9dc04)" d="M2040,430 C2000,460 1970,475 1942,490"/>
<path class="e" stroke="#b9dc04" marker-end="url(#sb9dc04)" d="M2036,425 C1850,445 1720,470 1666,490"/>
<path class="e" stroke="#cb986b" stroke-width="7" marker-end="url(#Lcb986b)" d="M985,533 C1040,555 1080,570 1115,588"/>
<path class="e" stroke="#c9fc6b" stroke-width="2" marker-end="url(#sc9fc6b)" d="M1098,533 L1132,581"/>
<path class="e" stroke="#7cfcb1" stroke-width="2" marker-end="url(#s7cfcb1)" d="M1202,533 L1168,581"/>
<path class="e" stroke="#fb3781" stroke-width="8" marker-end="url(#Lfb3781)" d="M636,517 C900,550 1200,580 1378,601"/>
<path class="e" stroke="#d9eb8a" stroke-width="2" marker-end="url(#sd9eb8a)" d="M1418,533 L1420,581"/>
<path class="e" stroke="#64e624" stroke-width="4" marker-end="url(#m64e624)" d="M1997,525 C1800,560 1600,585 1470,600"/>
<path class="e" stroke="#a1e224" marker-end="url(#sa1e224)" d="M1627,533 L1660,581"/>
<path class="e" stroke="#4faab8" marker-end="url(#s4faab8)" d="M1732,533 L1705,581"/>
<path class="e" stroke="#4efb32" marker-end="url(#s4efb32)" d="M1840,533 C1800,555 1760,570 1736,583"/>
<path class="e" stroke="#48a166" stroke-width="6" marker-end="url(#L48a166)" d="M1197,615 C1350,640 1500,670 1560,690"/>
<path class="e" stroke="#3a3022" stroke-width="6" marker-end="url(#L3a3022)" d="M1470,627 C1520,645 1560,665 1585,680"/>
<path class="e" stroke="#2e8959" marker-end="url(#s2e8959)" d="M1672,629 L1645,677"/>
<path class="e" stroke="#9c3621" marker-end="url(#s9c3621)" d="M3132,428 C2600,560 2000,670 1703,693"/>
</g>
<g id="a0.1" class="n"><rect x="110" y="5" width="95" height="48" rx="18" fill="#98dcbe"/><text x="157" y="35">&lt;a0.1&gt;</text></g>
<g id="a0.0" class="n"><rect x="516" y="5" width="95" height="48" rx="18" fill="#e91e9e"/><text x="563" y="35">&lt;a0.0&gt;</text></g>
<g id="a0.5" class="n"><rect x="783" y="5" width="95" height="48" rx="18" fill="#5cf70a"/><text x="830" y="35">&lt;a0.5&gt;</text></g>
<g id="a0.7" class="n"><rect x="1234" y="5" width="95" height="48" rx="18" fill="#a85f62"/><text x="1281" y="35">&lt;a0.7&gt;</text></g>
<g id="a0.3" class="n"><rect x="1425" y="5" width="95" height="48" rx="18" fill="#bb8c9e"/><text x="1472" y="35">&lt;a0.3&gt;</text></g>
<g id="a0.2" class="n"><rect x="1686" y="5" width="95" height="48" rx="18" fill="#ebb3d3"/><text x="1733" y="35">&lt;a0.2&gt;</text></g>
<g id="embed" class="n"><rect x="2345" y="5" width="86" height="48" rx="18" fill="#8198d4"/><text x="2388" y="35">embed</text></g>
<g id="a2.0_q" class="n"><rect x="601" y="101" width="116" height="48" rx="18" fill="#5bc4b0"/><text x="659" y="131">&lt;a2.0_q&gt;</text></g>
<g id="a1.0_k" class="n"><rect x="894" y="101" width="114" height="48" rx="18" fill="#eef06a"/><text x="951" y="131">&lt;a1.0_k&gt;</text></g>
<g id="a1.0_q" class="n"><rect x="1033" y="101" width="115" height="48" rx="18" fill="#d66a74"/><text x="1091" y="131">&lt;a1.0_q&gt;</text></g>
<g id="a1.5_v" class="n"><rect x="1224" y="101" width="114" height="48" rx="18" fill="#29b81f"/><text x="1281" y="131">&lt;a1.5_v&gt;</text></g>
<g id="a1.4_v" class="n"><rect x="1362" y="101" width="116" height="48" rx="18" fill="#56a90a"/><text x="1420" y="131">&lt;a1.4_v&gt;</text></g>
<g id="a1.0_v" class="n"><rect x="1653" y="101" width="114" height="48" rx="18" fill="#3bd9ab"/><text x="1710" y="131">&lt;a1.0_v&gt;</text></g>
<g id="a1.4_k" class="n"><rect x="2046" y="101" width="114" height="48" rx="18" fill="#e49787"/><text x="2103" y="131">&lt;a1.4_k&gt;</text></g>
<g id="a1.2_q" class="n"><rect x="2286" y="101" width="115" height="48" rx="18" fill="#717b1b"/><text x="2343" y="131">&lt;a1.2_q&gt;</text></g>
<g id="a1.2_v" class="n"><rect x="2428" y="101" width="113" height="48" rx="18" fill="#5de818"/><text x="2484" y="131">&lt;a1.2_v&gt;</text></g>
<g id="a2.3_q" class="n"><rect x="761" y="197" width="116" height="48" rx="18" fill="#a44aad"/><text x="819" y="227">&lt;a2.3_q&gt;</text></g>
<g id="a1.0" class="n"><rect x="1054" y="197" width="94" height="48" rx="18" fill="#1b2197"/><text x="1101" y="227">&lt;a1.0&gt;</text></g>
<g id="a1.4" class="n"><rect x="1555" y="197" width="94" height="48" rx="18" fill="#c9b372"/><text x="1602" y="227">&lt;a1.4&gt;</text></g>
<g id="a1.5" class="n"><rect x="1674" y="197" width="94" height="48" rx="18" fill="#6f41ef"/><text x="1721" y="227">&lt;a1.5&gt;</text></g>
<g id="a1.7" class="n"><rect x="1845" y="197" width="95" height="48" rx="18" fill="#718d5c"/><text x="1892" y="227">&lt;a1.7&gt;</text></g>
<g id="a1.6" class="n"><rect x="1964" y="197" width="93" height="48" rx="18" fill="#e6951b"/><text x="2010" y="227">&lt;a1.6&gt;</text></g>
<g id="a1.2" class="n"><rect x="2366" y="197" width="94" height="48" rx="18" fill="#4c18b6"/><text x="2413" y="227">&lt;a1.2&gt;</text></g>
<g id="a2.2_v" class="n"><rect x="2768" y="197" width="114" height="48" rx="18" fill="#13e47d"/><text x="2825" y="227">&lt;a2.2_v&gt;</text></g>
<g id="a3.5_v" class="n"><rect x="3157" y="197" width="115" height="48" rx="18" fill="#76f46d"/><text x="3214" y="227">&lt;a3.5_v&gt;</text></g>
<g id="a2.0_k" class="n"><rect x="565" y="293" width="115" height="48" rx="18" fill="#8f57c9"/><text x="623" y="323">&lt;a2.0_k&gt;</text></g>
<g id="a2.2_q" class="n"><rect x="857" y="293" width="115" height="48" rx="18" fill="#5a0e80"/><text x="915" y="323">&lt;a2.2_q&gt;</text></g>
<g id="a2.0_v" class="n"><rect x="1048" y="293" width="115" height="48" rx="18" fill="#1e8d35"/><text x="1105" y="323">&lt;a2.0_v&gt;</text></g>
<g id="a2.6_v" class="n"><rect x="1338" y="293" width="115" height="48" rx="18" fill="#b3bdc0"/><text x="1396" y="323">&lt;a2.6_v&gt;</text></g>
<g id="a2.1_v" class="n"><rect x="1528" y="293" width="114" height="48" rx="18" fill="#8e076d"/><text x="1585" y="323">&lt;a2.1_v&gt;</text></g>
<g id="a2.7_v" class="n"><rect x="1667" y="293" width="114" height="48" rx="18" fill="#864a97"/><text x="1724" y="323">&lt;a2.7_v&gt;</text></g>
<g id="a2.2_k" class="n"><rect x="1957" y="293" width="114" height="48" rx="18" fill="#6fe60c"/><text x="2014" y="323">&lt;a2.2_k&gt;</text></g>
<g id="a2.5_v" class="n"><rect x="2147" y="293" width="114" height="48" rx="18" fill="#d99544"/><text x="2204" y="323">&lt;a2.5_v&gt;</text></g>
<g id="a2.7_q" class="n"><rect x="2286" y="293" width="115" height="48" rx="18" fill="#13cdb0"/><text x="2343" y="323">&lt;a2.7_q&gt;</text></g>
<g id="a2.3_v" class="n"><rect x="2527" y="293" width="116" height="48" rx="18" fill="#b07023"/><text x="2585" y="323">&lt;a2.3_v&gt;</text></g>
<g id="a3.5_k" class="n"><rect x="3054" y="293" width="114" height="48" rx="18" fill="#bc4832"/><text x="3111" y="323">&lt;a3.5_k&gt;</text></g>
<g id="a3.5_q" class="n"><rect x="3193" y="293" width="115" height="48" rx="18" fill="#1f4de1"/><text x="3250" y="323">&lt;a3.5_q&gt;</text></g>
<g id="a2.0" class="n"><rect x="1168" y="389" width="95" height="48" rx="18" fill="#6b2722"/><text x="1216" y="419">&lt;a2.0&gt;</text></g>
<g id="a2.3" class="n"><rect x="1389" y="389" width="96" height="48" rx="18" fill="#a1163f"/><text x="1437" y="419">&lt;a2.3&gt;</text></g>
<g id="a2.5" class="n"><rect x="1561" y="389" width="94" height="48" rx="18" fill="#936458"/><text x="1608" y="419">&lt;a2.5&gt;</text></g>
<g id="a2.2" class="n"><rect x="1680" y="389" width="94" height="48" rx="18" fill="#0449fb"/><text x="1727" y="419">&lt;a2.2&gt;</text></g>
<g id="a2.6" class="n"><rect x="1798" y="389" width="94" height="48" rx="18" fill="#e05a45"/><text x="1845" y="419">&lt;a2.6&gt;</text></g>
<g id="a2.1" class="n"><rect x="1917" y="389" width="94" height="48" rx="18" fill="#c07ff0"/><text x="1964" y="419">&lt;a2.1&gt;</text></g>
<g id="a2.7" class="n"><rect x="2036" y="389" width="93" height="48" rx="18" fill="#b9dc04"/><text x="2082" y="419">&lt;a2.7&gt;</text></g>
<g id="a3.5" class="n"><rect x="3132" y="389" width="96" height="48" rx="18" fill="#9c3621"/><text x="3180" y="419">&lt;a3.5&gt;</text></g>
<g id="a3.0_v" class="n"><rect x="521" y="485" width="115" height="48" rx="18" fill="#fb3781"/><text x="578" y="515">&lt;a3.0_v&gt;</text></g>
<g id="a3.6_v" class="n"><rect x="871" y="485" width="114" height="48" rx="18" fill="#cb986b"/><text x="928" y="515">&lt;a3.6_v&gt;</text></g>
<g id="a3.6_k" class="n"><rect x="1022" y="485" width="115" height="48" rx="18" fill="#c9fc6b"/><text x="1080" y="515">&lt;a3.6_k&gt;</text></g>
<g id="a3.6_q" class="n"><rect x="1163" y="485" width="115" height="48" rx="18" fill="#7cfcb1"/><text x="1220" y="515">&lt;a3.6_q&gt;</text></g>
<g id="a3.0_q" class="n"><rect x="1358" y="485" width="115" height="48" rx="18" fill="#d9eb8a"/><text x="1416" y="515">&lt;a3.0_q&gt;</text></g>
<g id="a3.7_q" class="n"><rect x="1550" y="485" width="116" height="48" rx="18" fill="#a1e224"/><text x="1608" y="515">&lt;a3.7_q&gt;</text></g>
<g id="a3.7_k" class="n"><rect x="1691" y="485" width="114" height="48" rx="18" fill="#4faab8"/><text x="1748" y="515">&lt;a3.7_k&gt;</text></g>
<g id="a3.7_v" class="n"><rect x="1830" y="485" width="113" height="48" rx="18" fill="#4efb32"/><text x="1887" y="515">&lt;a3.7_v&gt;</text></g>
<g id="a3.0_k" class="n"><rect x="1997" y="485" width="115" height="48" rx="18" fill="#64e624"/><text x="2054" y="515">&lt;a3.0_k&gt;</text></g>
<g id="a3.6" class="n"><rect x="1104" y="581" width="93" height="48" rx="18" fill="#48a166"/><text x="1151" y="611">&lt;a3.6&gt;</text></g>
<g id="a3.0" class="n"><rect x="1374" y="581" width="96" height="48" rx="18" fill="#3a3022"/><text x="1422" y="611">&lt;a3.0&gt;</text></g>
<g id="a3.7" class="n"><rect x="1642" y="581" width="94" height="48" rx="18" fill="#2e8959"/><text x="1689" y="611">&lt;a3.7&gt;</text></g>
<g id="resid_post" class="n"><rect x="1555" y="677" width="148" height="48" rx="18" fill="#a1f5ae"/><text x="1629" y="707">&lt;resid_post&gt;</text></g>
</svg>
